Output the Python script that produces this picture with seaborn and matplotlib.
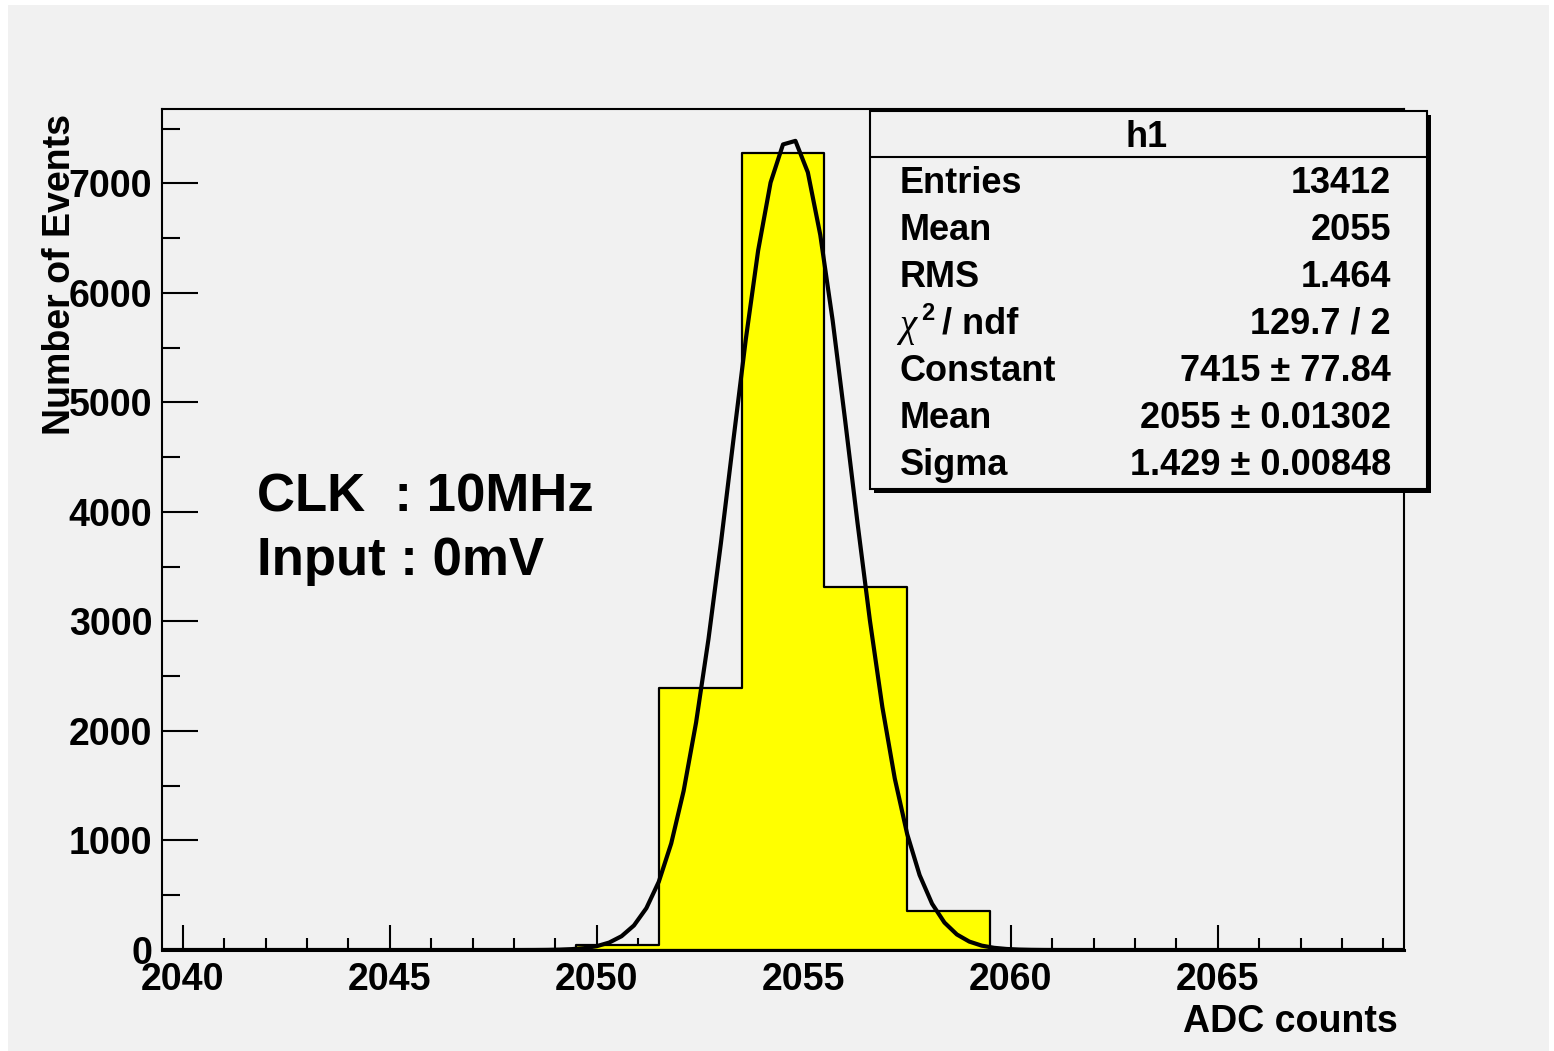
import numpy as np
import pandas as pd
import matplotlib
matplotlib.use("Agg")
import matplotlib.pyplot as plt
from matplotlib.patches import Rectangle
from matplotlib.lines import Line2D
import seaborn as sns

# ---------------- data ----------------
bin_edges = [2039.5 + 2 * i for i in range(16)]
bin_centers = [2040.5 + 2 * i for i in range(15)]
bin_counts = [0, 0, 0, 0, 0, 43, 2395, 7280, 3318, 360, 0, 0, 0, 0, 0]

fit_constant = 7415
fit_mean = 2054.68
fit_sigma = 1.429

stats_title = "h1"
stats_labels = ["Entries", "Mean", "RMS", None, "Constant", "Mean", "Sigma"]
stats_values = ["13412", "2055", "1.464", "129.7 / 2", "7415 \u00b1 77.84",
                "2055 \u00b1 0.01302", "1.429 \u00b1 0.00848"]

x_major_ticks = [2040, 2045, 2050, 2055, 2060, 2065]
y_major_ticks = [0, 1000, 2000, 3000, 4000, 5000, 6000, 7000]
annotation_lines = ["CLK  : 10MHz", "Input : 0mV"]
x_title = "ADC counts"
y_title = "Number of Events"

# ---------------- style ----------------
sns.set_style("white")
plt.rcParams["font.family"] = ["Liberation Sans", "DejaVu Sans"]
plt.rcParams["font.weight"] = "bold"
for key in ["text.color", "axes.labelcolor", "xtick.color", "ytick.color", "axes.edgecolor"]:
    plt.rcParams[key] = "black"

W, H = 1554, 1051
BG = "#f1f1f1"
fig = plt.figure(figsize=(W / 100, H / 100), dpi=100, facecolor="white")


def fx(px):
    return px / W


def fy(py):
    return 1 - py / H


# canvas background (grey pad with a thin white margin)
fig.patches.append(Rectangle((fx(8), 0), fx(1549) - fx(8), fy(5), transform=fig.transFigure,
                             facecolor=BG, edgecolor="none", zorder=-10))

ax = fig.add_axes([fx(162), fy(950), fx(1404) - fx(162), fy(109) - fy(950)])
ax.set_facecolor(BG)

df = pd.DataFrame({"adc": bin_centers, "count": bin_counts})
sns.histplot(data=df, x="adc", weights="count", bins=bin_edges, element="step",
             fill=True, color="#ffff00", edgecolor="black", linewidth=1.6, alpha=1,
             ax=ax, zorder=2)

xf = np.linspace(bin_edges[0], bin_edges[-1], 101)
yf = fit_constant * np.exp(-0.5 * ((xf - fit_mean) / fit_sigma) ** 2)
sns.lineplot(x=xf, y=yf, color="black", linewidth=3.0, ax=ax, zorder=3)

ax.set_xlim(2039.5, 2069.5)
ax.set_ylim(0, 7680)
ax.set_xlabel("")
ax.set_ylabel("")

ax.set_xticks(x_major_ticks)
ax.set_xticks(np.arange(2040, 2070, 1), minor=True)
ax.set_yticks(y_major_ticks)
ax.set_yticks(np.arange(0, 7680, 500), minor=True)
ax.set_xticklabels([str(v) for v in x_major_ticks])
ax.set_yticklabels([str(v) for v in y_major_ticks])

ax.tick_params(axis="x", which="major", direction="in", length=18, width=1.5,
               pad=8.5, labelsize=27, bottom=True, top=False, colors="black")
ax.tick_params(axis="x", which="minor", direction="in", length=8.6, width=1.5,
               bottom=True, top=False, colors="black")
ax.tick_params(axis="y", which="major", direction="in", length=26, width=1.5,
               pad=7, labelsize=27, left=True, right=False, colors="black")
ax.tick_params(axis="y", which="minor", direction="in", length=13, width=1.5,
               left=True, right=False, colors="black")
for lab in ax.get_xticklabels() + ax.get_yticklabels():
    lab.set_fontweight("bold")
    lab.set_color("black")

for side, sp in ax.spines.items():
    sp.set_visible(True)
    sp.set_color("black")
    sp.set_linewidth(1.5)
ax.spines["bottom"].set_linewidth(2.2)
ax.spines["bottom"].set_zorder(4)

# axis titles
fig.text(fx(1398), fy(1032), x_title, ha="right", va="baseline", fontsize=27,
         fontweight="bold", color="black")
fig.text(fx(60), fy(114), y_title, ha="center", va="top", rotation=90, fontsize=27,
         fontweight="bold", color="black")

# annotation
fig.text(fx(257), fy(511), annotation_lines[0], ha="left", va="baseline", fontsize=38,
         fontweight="bold", color="black")
fig.text(fx(257), fy(575), annotation_lines[1], ha="left", va="baseline", fontsize=38,
         fontweight="bold", color="black")

# stats box with shadow
bl, br, bt, bb = 870, 1427, 111, 489
sh = 4
fig.patches.append(Rectangle((fx(bl + sh), fy(bb + sh)), fx(br) - fx(bl), fy(bt) - fy(bb),
                             transform=fig.transFigure, facecolor="black", edgecolor="black",
                             linewidth=0, zorder=5))
fig.patches.append(Rectangle((fx(bl), fy(bb)), fx(br) - fx(bl), fy(bt) - fy(bb),
                             transform=fig.transFigure, facecolor=BG, edgecolor="black",
                             linewidth=1.5, zorder=6))
fig.lines.append(Line2D([fx(bl), fx(br)], [fy(157), fy(157)], transform=fig.transFigure,
                        color="black", linewidth=1.5, zorder=7))
fig.text(fx(1147), fy(147), stats_title, ha="center", va="baseline", fontsize=26,
         fontweight="bold", zorder=8, color="black")
for i, (lab, val) in enumerate(zip(stats_labels, stats_values)):
    base = 193 + 47 * i
    if lab is None:
        # chi^2 / ndf with a symbol-style chi
        fig.text(fx(899), fy(base + 2), "\u03c7", ha="left", va="baseline", fontsize=28,
                 fontweight="normal", fontstyle="italic", family="Liberation Serif",
                 zorder=8, color="black")
        fig.text(fx(921), fy(base - 14), "2", ha="left", va="baseline", fontsize=17,
                 fontweight="bold", zorder=8, color="black")
        fig.text(fx(942), fy(base), "/ ndf", ha="left", va="baseline", fontsize=26,
                 fontweight="bold", zorder=8, color="black")
    else:
        fig.text(fx(900), fy(base), lab, ha="left", va="baseline", fontsize=26,
                 fontweight="bold", zorder=8, color="black")
    fig.text(fx(1391), fy(base), val, ha="right", va="baseline", fontsize=26,
             fontweight="bold", zorder=8, color="black")

fig.savefig("out.png", dpi=100, facecolor=fig.get_facecolor())
